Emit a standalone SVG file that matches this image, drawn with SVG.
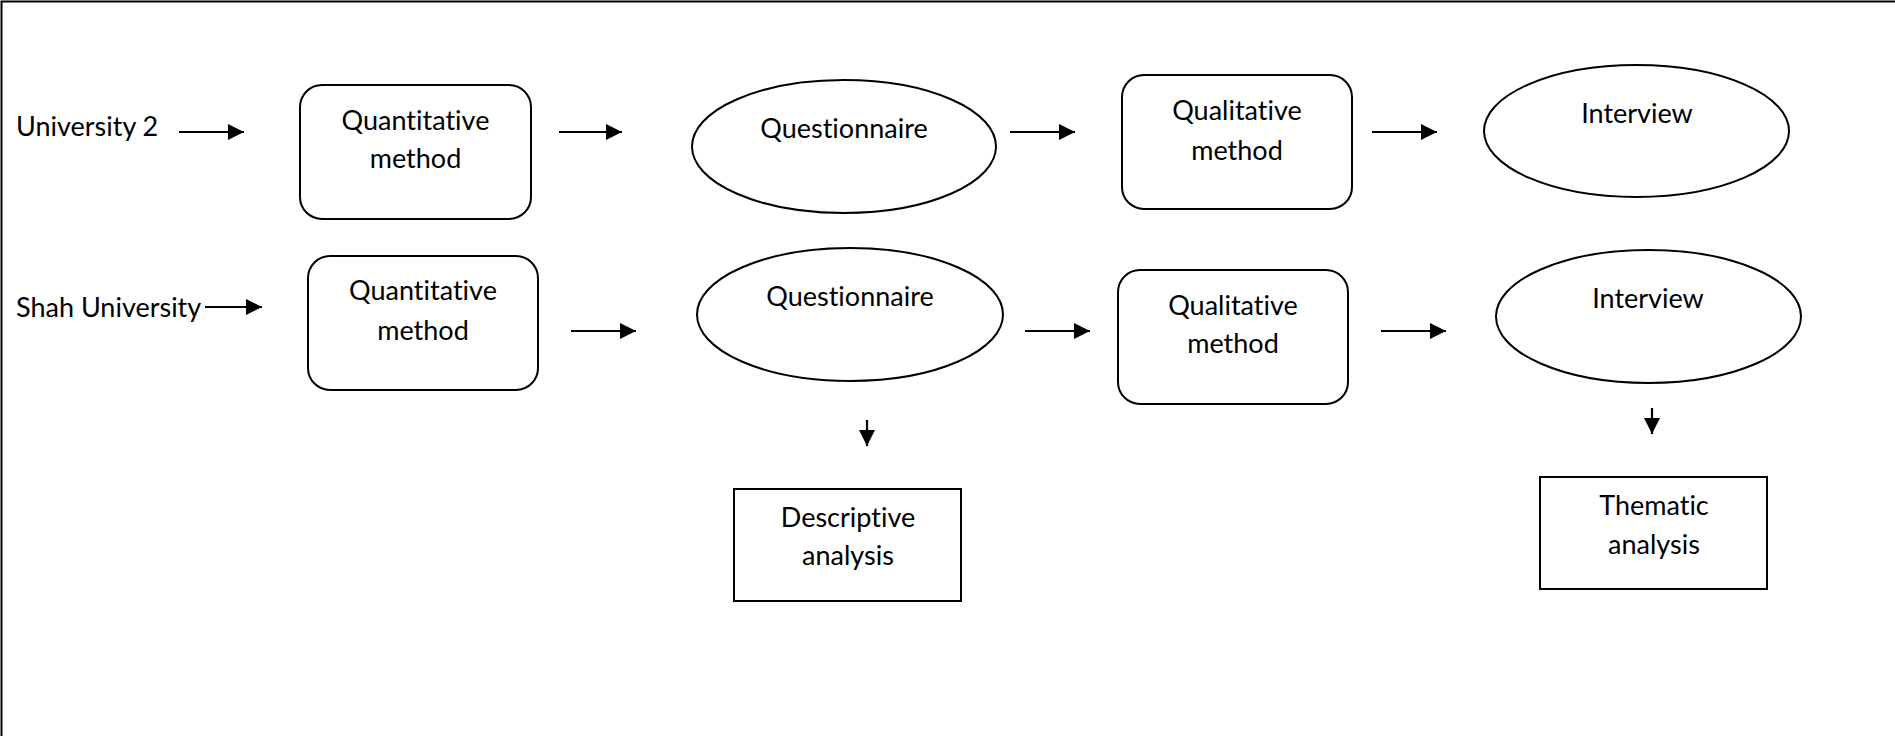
<svg xmlns="http://www.w3.org/2000/svg" width="1895" height="736" viewBox="0 0 1895 736">
<style>
.n{fill:#fff;stroke:#000;stroke-width:2}
.t{font-family:Lato,"Liberation Sans",sans-serif;font-size:27px;fill:#000;text-anchor:middle;font-variant-ligatures:none}
.l{font-family:Lato,"Liberation Sans",sans-serif;font-size:27px;fill:#000;font-variant-ligatures:none}
.c{stroke:#000;stroke-width:2.2;fill:none;marker-end:url(#ah)}
</style>
<defs>
<marker id="ah" markerUnits="userSpaceOnUse" markerWidth="18" markerHeight="16" refX="16" refY="8" orient="auto">
<path d="M0,0 L16,8 L0,16 Z" fill="#000"/>
</marker>
</defs>
<rect width="1895" height="736" fill="#fff"/>
<path d="M1.5,736 V1.5 H1895" fill="none" stroke="#000" stroke-width="2"/>
<g id="label-u2"><text class="l" x="16" y="136">University 2</text></g>
<g id="label-shah"><text class="l" x="16" y="317">Shah University</text></g>
<g id="quant1"><rect class="n" x="300" y="85" width="231" height="134" rx="22"/><text class="t" x="415.5" y="130">Quantitative</text><text class="t" x="415.5" y="168">method</text></g>
<g id="quest1"><ellipse class="n" cx="844" cy="146.5" rx="152" ry="66.5"/><text class="t" x="844" y="138">Questionnaire</text></g>
<g id="qual1"><rect class="n" x="1122" y="75" width="230" height="134" rx="22"/><text class="t" x="1237" y="120">Qualitative</text><text class="t" x="1237" y="160">method</text></g>
<g id="interview1"><ellipse class="n" cx="1636.5" cy="131" rx="152.5" ry="66"/><text class="t" x="1637" y="123">Interview</text></g>
<g id="quant2"><rect class="n" x="308" y="256" width="230" height="134" rx="22"/><text class="t" x="423" y="300">Quantitative</text><text class="t" x="423" y="340">method</text></g>
<g id="quest2"><ellipse class="n" cx="850" cy="314.5" rx="153" ry="66.5"/><text class="t" x="850" y="306">Questionnaire</text></g>
<g id="qual2"><rect class="n" x="1118" y="270" width="230" height="134" rx="22"/><text class="t" x="1233" y="315">Qualitative</text><text class="t" x="1233" y="353">method</text></g>
<g id="interview2"><ellipse class="n" cx="1648.5" cy="316.5" rx="152.5" ry="66.5"/><text class="t" x="1648" y="308">Interview</text></g>
<g id="descriptive"><rect class="n" x="734" y="489" width="227" height="112"/><text class="t" x="848" y="527">Descriptive</text><text class="t" x="848" y="565">analysis</text></g>
<g id="thematic"><rect class="n" x="1540" y="477" width="227" height="112"/><text class="t" x="1654" y="515">Thematic</text><text class="t" x="1654" y="554">analysis</text></g>
<g id="connectors">
<line class="c" x1="179" y1="132" x2="244" y2="132"/>
<line class="c" x1="559" y1="132" x2="622" y2="132"/>
<line class="c" x1="1010" y1="132" x2="1075" y2="132"/>
<line class="c" x1="1372" y1="132" x2="1437" y2="132"/>
<line class="c" x1="205" y1="307" x2="262" y2="307"/>
<line class="c" x1="571" y1="331" x2="636" y2="331"/>
<line class="c" x1="1025" y1="331" x2="1090" y2="331"/>
<line class="c" x1="1381" y1="331" x2="1446" y2="331"/>
<line class="c" x1="867" y1="420" x2="867" y2="446"/>
<line class="c" x1="1652" y1="408" x2="1652" y2="434"/>
</g>
</svg>
